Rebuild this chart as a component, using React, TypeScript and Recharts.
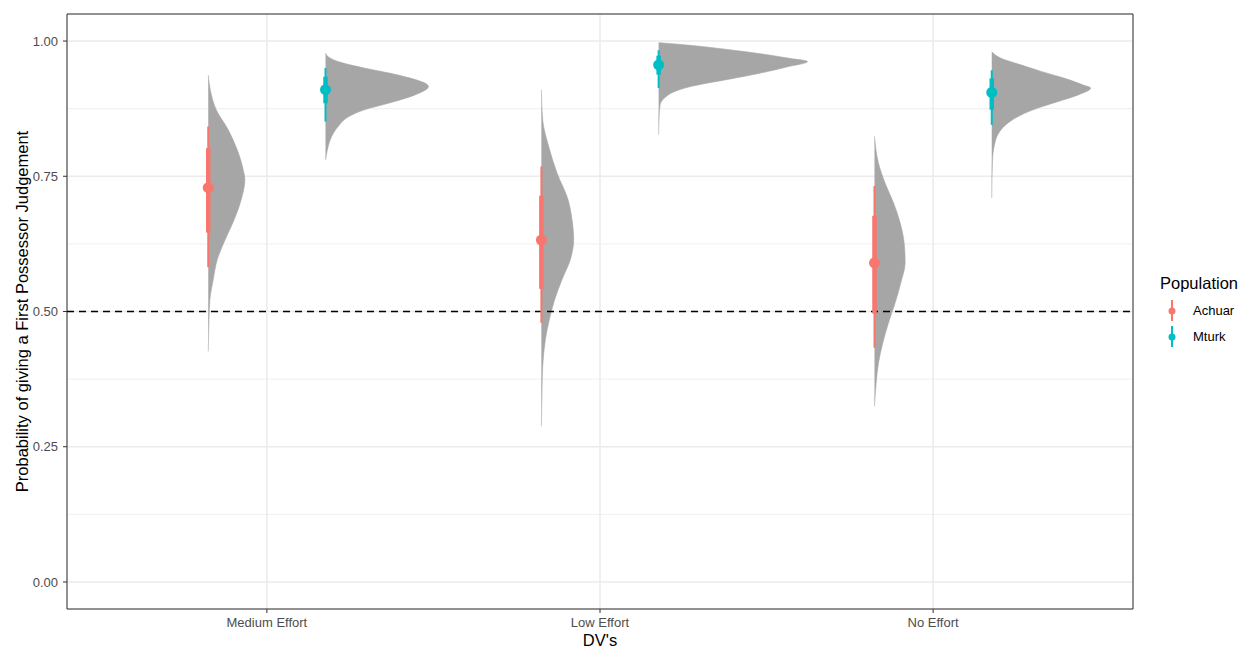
import {
  ComposedChart,
  Area,
  Line,
  Scatter,
  XAxis,
  YAxis,
  CartesianGrid,
  ReferenceLine,
  ReferenceArea,
} from "recharts";

const FONT = '"Liberation Sans", Arial, sans-serif';

const CATEGORIES = ["Medium Effort", "Low Effort", "No Effort"];
const POPULATIONS = ["Achuar", "Mturk"];
const COLORS = ["#F8766D", "#00BFC4"];
const DODGE = [-0.176, 0.176];
const Y_TICKS = [0, 0.25, 0.5, 0.75, 1];
const Y_MINOR = [0.125, 0.375, 0.625, 0.875];

// medians + 66% / 95% intervals, one per category
const ACHUAR_MEDIAN = [0.729, 0.632, 0.59];
const ACHUAR_66 = [[0.646, 0.802], [0.542, 0.714], [0.496, 0.677]];
const ACHUAR_95 = [[0.582, 0.842], [0.479, 0.768], [0.433, 0.732]];
const MTURK_MEDIAN = [0.91, 0.956, 0.905];
const MTURK_66 = [[0.885, 0.934], [0.938, 0.973], [0.873, 0.931]];
const MTURK_95 = [[0.851, 0.95], [0.913, 0.983], [0.845, 0.946]];

// posterior densities as [probability, scaled density]
const ACHUAR_DENSITY = [
  [
    [0.937, 0], [0.91, 0.006], [0.873, 0.024], [0.836, 0.06], [0.799, 0.087], [0.762, 0.105],
    [0.744, 0.11], [0.707, 0.099], [0.67, 0.078], [0.633, 0.051], [0.596, 0.027], [0.559, 0.015],
    [0.522, 0.005], [0.48, 0.002], [0.426, 0],
  ],
  [
    [0.91, 0], [0.854, 0.004], [0.805, 0.022], [0.756, 0.047], [0.707, 0.08], [0.67, 0.092],
    [0.633, 0.097], [0.596, 0.087], [0.559, 0.062], [0.522, 0.04], [0.485, 0.024], [0.448, 0.012],
    [0.399, 0.004], [0.34, 0.0015], [0.288, 0],
  ],
  [
    [0.824, 0], [0.774, 0.012], [0.737, 0.032], [0.701, 0.057], [0.664, 0.077], [0.627, 0.089],
    [0.59, 0.092], [0.553, 0.079], [0.516, 0.062], [0.479, 0.042], [0.442, 0.025], [0.405, 0.012],
    [0.368, 0.005], [0.325, 0],
  ],
];
const MTURK_DENSITY = [
  [
    [0.978, 0], [0.971, 0.008], [0.962, 0.038], [0.95, 0.117], [0.937, 0.219], [0.916, 0.309],
    [0.9, 0.267], [0.885, 0.189], [0.873, 0.117], [0.86, 0.069], [0.842, 0.038], [0.823, 0.018],
    [0.805, 0.008], [0.787, 0.002], [0.78, 0],
  ],
  [
    [0.997, 0], [0.994, 0.06], [0.983, 0.225], [0.968, 0.393], [0.962, 0.447], [0.952, 0.384],
    [0.94, 0.3], [0.93, 0.216], [0.922, 0.144], [0.915, 0.09], [0.906, 0.045], [0.895, 0.018],
    [0.882, 0.0045], [0.86, 0.0015], [0.827, 0],
  ],
  [
    [0.98, 0], [0.968, 0.028], [0.956, 0.087], [0.943, 0.153], [0.931, 0.219], [0.919, 0.273],
    [0.913, 0.297], [0.9, 0.258], [0.888, 0.198], [0.876, 0.138], [0.863, 0.087], [0.851, 0.054],
    [0.833, 0.024], [0.808, 0.008], [0.777, 0.002], [0.71, 0],
  ],
];

const GROUPS = [
  { median: ACHUAR_MEDIAN, inner: ACHUAR_66, outer: ACHUAR_95, density: ACHUAR_DENSITY },
  { median: MTURK_MEDIAN, inner: MTURK_66, outer: MTURK_95, density: MTURK_DENSITY },
];

function YTitle(props: any) {
  const vb = props.viewBox;
  const cx = vb.x + 27.5;
  const cy = vb.y + vb.height / 2;
  return (
    <text
      x={cx}
      y={cy}
      transform={`rotate(-90, ${cx}, ${cy})`}
      textAnchor="middle"
      fontSize={16.5}
      fontFamily={FONT}
      fill="#000"
    >
      Probability of giving a First Possessor Judgement
    </text>
  );
}

function XTitle(props: any) {
  const vb = props.viewBox;
  return (
    <text
      x={vb.x + vb.width / 2}
      y={vb.y + 37}
      textAnchor="middle"
      fontSize={16.5}
      fontFamily={FONT}
      fill="#000"
    >
      DV's
    </text>
  );
}

export default function App() {
  return (
    <div style={{ position: "absolute", left: 0, top: 0, width: 1243, height: 650, background: "#fff" }}>
      <ComposedChart
        width={1243}
        height={650}
        layout="vertical"
        margin={{ top: 14, right: 110, bottom: 0, left: 0 }}
      >
        <CartesianGrid vertical={false} horizontalValues={Y_MINOR} stroke="#EBEBEB" strokeWidth={0.8} />
        <CartesianGrid stroke="#EBEBEB" strokeWidth={1.5} />
        <XAxis
          type="number"
          dataKey="x"
          domain={[0.4, 3.6]}
          allowDataOverflow
          ticks={[1, 2, 3]}
          interval={0}
          tickFormatter={(v) => CATEGORIES[Number(v) - 1]}
          axisLine={false}
          tickLine={{ stroke: "#333" }}
          tickSize={4}
          tickMargin={5}
          height={41}
          tick={{ fontSize: 13, fill: "#4D4D4D", fontFamily: FONT }}
          label={<XTitle />}
        />
        <YAxis
          type="number"
          dataKey="y"
          reversed
          domain={[-0.05, 1.05]}
          allowDataOverflow
          ticks={Y_TICKS}
          interval={0}
          tickFormatter={(v) => Number(v).toFixed(2)}
          axisLine={false}
          tickLine={{ stroke: "#333" }}
          tickSize={4}
          tickMargin={5}
          width={67}
          tick={{ fontSize: 13, fill: "#4D4D4D", fontFamily: FONT }}
          label={<YTitle />}
        />
        <ReferenceLine y={0.5} stroke="#000" strokeWidth={1.5} strokeDasharray="7 5" />

        {GROUPS.map((g, p) =>
          g.density.map((dens, i) => {
            const base = i + 1 + DODGE[p];
            return (
              <Area
                key={`dens-${p}-${i}`}
                data={dens.map(([y, d]) => ({ y, x: base + d }))}
                dataKey="x"
                baseValue={base}
                type="monotone"
                fill="#A6A6A6"
                fillOpacity={1}
                stroke="#A6A6A6"
                strokeWidth={0.6}
                dot={false}
                activeDot={false}
                isAnimationActive={false}
              />
            );
          })
        )}

        {GROUPS.map((g, p) =>
          g.outer.map(([lo, hi], i) => (
            <Line
              key={`outer-${p}-${i}`}
              data={[
                { y: lo, x: i + 1 + DODGE[p] },
                { y: hi, x: i + 1 + DODGE[p] },
              ]}
              dataKey="x"
              type="linear"
              stroke={COLORS[p]}
              strokeWidth={2}
              dot={false}
              activeDot={false}
              isAnimationActive={false}
            />
          ))
        )}
        {GROUPS.map((g, p) =>
          g.inner.map(([lo, hi], i) => (
            <Line
              key={`inner-${p}-${i}`}
              data={[
                { y: lo, x: i + 1 + DODGE[p] },
                { y: hi, x: i + 1 + DODGE[p] },
              ]}
              dataKey="x"
              type="linear"
              stroke={COLORS[p]}
              strokeWidth={4.5}
              dot={false}
              activeDot={false}
              isAnimationActive={false}
            />
          ))
        )}
        {GROUPS.map((g, p) => (
          <Scatter
            key={`pt-${p}`}
            name={POPULATIONS[p]}
            data={g.median.map((y, i) => ({ x: i + 1 + DODGE[p], y }))}
            fill={COLORS[p]}
            isAnimationActive={false}
            shape={(s: any) => <circle cx={s.cx} cy={s.cy} r={5.5} fill={COLORS[p]} />}
          />
        ))}

        <ReferenceArea x1={0.4} x2={3.6} y1={-0.05} y2={1.05} fill="none" stroke="#333" strokeWidth={1} />
      </ComposedChart>

      {/* legend */}
      <div
        style={{
          position: "absolute",
          left: 1160,
          top: 273,
          fontFamily: FONT,
          fontSize: 16.5,
          lineHeight: "20px",
          color: "#000",
        }}
      >
        Population
      </div>
      {POPULATIONS.map((name, i) => (
        <div key={name} style={{ position: "absolute", left: 1162, top: 300 + i * 26, height: 22 }}>
          <svg width={20} height={22} style={{ position: "absolute", left: 0, top: 0 }}>
            <line x1={10} x2={10} y1={0} y2={21} stroke={COLORS[i]} strokeWidth={2} />
            <circle cx={10} cy={11} r={3.5} fill={COLORS[i]} />
          </svg>
          <span
            style={{
              position: "absolute",
              left: 31,
              top: 2,
              fontFamily: FONT,
              fontSize: 13,
              lineHeight: "18px",
              color: "#000",
              whiteSpace: "nowrap",
            }}
          >
            {name}
          </span>
        </div>
      ))}
    </div>
  );
}
